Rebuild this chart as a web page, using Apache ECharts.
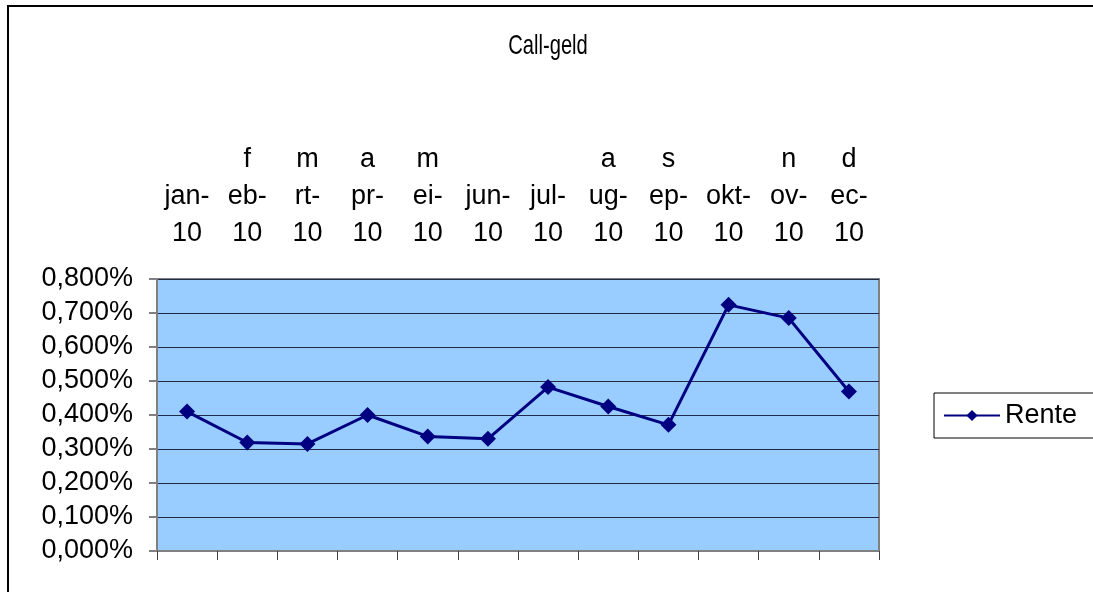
<!DOCTYPE html>
<html>
<head>
<meta charset="utf-8">
<title>Call-geld</title>
<script src="https://cdn.jsdelivr.net/npm/echarts@6/dist/echarts.min.js"></script>
<style>
  html, body { margin: 0; padding: 0; background: #ffffff; }
  #chart { width: 1093px; height: 592px; }
</style>
</head>
<body>
<div id="chart"></div>
<script>
// Months of 2010
const categories = ['jan-10', 'feb-10', 'mrt-10', 'apr-10', 'mei-10', 'jun-10',
                    'jul-10', 'aug-10', 'sep-10', 'okt-10', 'nov-10', 'dec-10'];

// Wrapped month labels, three lines each
const monthLabels = ['\njan-\n10', 'f\neb-\n10', 'm\nrt-\n10', 'a\npr-\n10',
                     'm\nei-\n10', '\njun-\n10', '\njul-\n10', 'a\nug-\n10',
                     's\nep-\n10', '\nokt-\n10', 'n\nov-\n10', 'd\nec-\n10'];

// Call-geld rate, in percent
const rente = [0.410, 0.319, 0.315, 0.400, 0.337, 0.330,
               0.482, 0.425, 0.371, 0.724, 0.685, 0.469];

const seriesName = 'Rente';
const titleText = 'Call-geld';

const FONT = '"Liberation Sans", Arial, sans-serif';

const chart = echarts.init(document.getElementById('chart'), null, { renderer: 'canvas' });

chart.setOption({
  animation: false,
  backgroundColor: '#ffffff',
  textStyle: { fontFamily: FONT },
  graphic: [{
    // outer frame of the chart area
    type: 'rect',
    z: -10,
    shape: { x: 8, y: 6, width: 1200, height: 700 },
    style: { fill: 'none', stroke: '#000000', lineWidth: 2 }
  }, {
    // condensed title
    type: 'text',
    x: 548,
    y: 46,
    scaleX: 0.72,
    style: {
      text: titleText,
      fontFamily: FONT,
      fontSize: 28,
      fill: '#000000',
      align: 'center',
      verticalAlign: 'middle'
    }
  }],
  legend: {
    left: 934,
    top: 393,
    orient: 'vertical',
    backgroundColor: '#ffffff',
    borderColor: '#000000',
    borderWidth: 1,
    borderRadius: 0,
    padding: [9, 60, 9, 9],
    itemWidth: 56,
    itemHeight: 14,
    textStyle: { fontFamily: FONT, fontSize: 27, color: '#000000', lineHeight: 25 },
    data: [seriesName]
  },
  grid: {
    left: 157,
    right: 214,
    top: 279,
    bottom: 41,
    show: true,
    backgroundColor: '#99ccff',
    borderColor: '#808080',
    borderWidth: 2
  },
  xAxis: [{
    type: 'category',
    data: categories,
    position: 'bottom',
    boundaryGap: true,
    axisLine: { show: true, lineStyle: { color: '#808080', width: 2 } },
    axisTick: { show: true, length: 9, lineStyle: { color: '#404040', width: 1 } },
    axisLabel: { show: false },
    splitLine: { show: false }
  }, {
    type: 'category',
    data: categories,
    position: 'top',
    boundaryGap: true,
    axisLine: { show: false },
    axisTick: { show: false },
    axisLabel: {
      show: true,
      interval: 0,
      margin: 27,
      fontFamily: FONT,
      fontSize: 27,
      lineHeight: 37,
      color: '#000000',
      align: 'center',
      formatter: (v, i) => monthLabels[i]
    },
    splitLine: { show: false }
  }],
  yAxis: {
    type: 'value',
    min: 0,
    max: 0.8,
    interval: 0.1,
    axisLine: { show: true, lineStyle: { color: '#808080', width: 2 } },
    axisTick: { show: true, length: 8, lineStyle: { color: '#808080', width: 2 } },
    axisLabel: {
      margin: 24,
      fontFamily: FONT,
      fontSize: 27,
      color: '#000000',
      formatter: v => v.toFixed(3).replace('.', ',') + '%'
    },
    splitLine: { show: true, lineStyle: { color: '#1e2a48', width: 1 } }
  },
  series: [{
    name: seriesName,
    type: 'line',
    xAxisIndex: 0,
    data: rente,
    symbol: 'diamond',
    symbolSize: 16,
    itemStyle: { color: '#000080' },
    lineStyle: { color: '#000080', width: 3 }
  }]
});
</script>
</body>
</html>
